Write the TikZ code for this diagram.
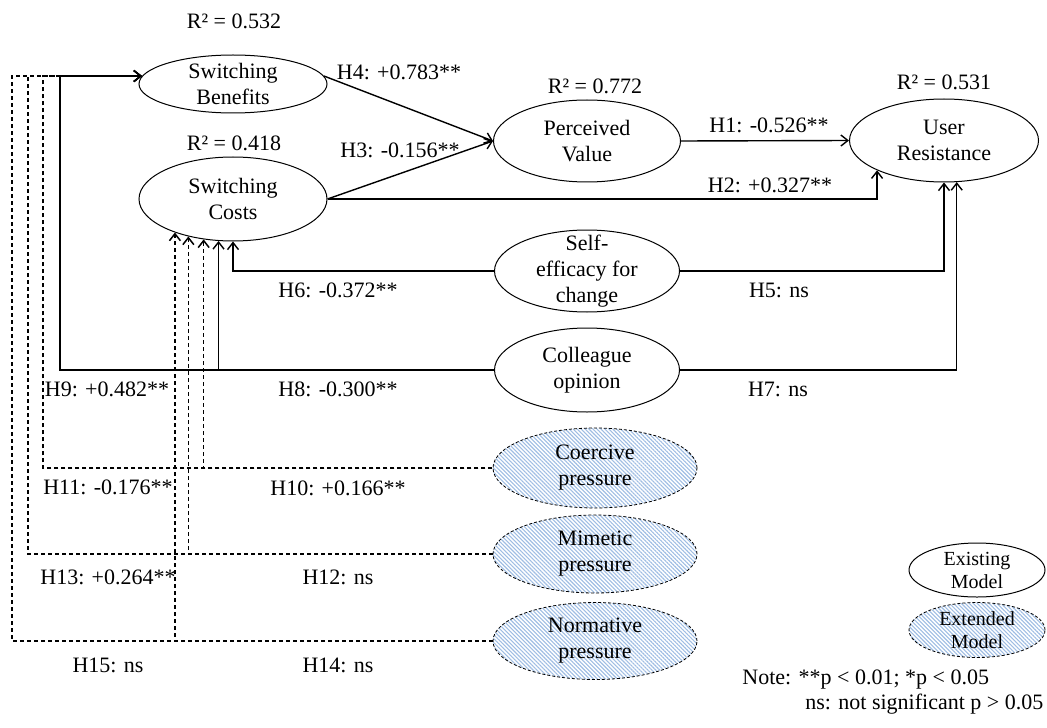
\documentclass[tikz,border=0pt]{standalone}
\usepackage{fontspec}
\setmainfont{Liberation Serif}
\usetikzlibrary{shapes.geometric,arrows.meta,patterns.meta}
\definecolor{hatch}{HTML}{9FBDE3}
\begin{document}
\begin{tikzpicture}[x=0.5pt,y=-0.5pt,
  font=\fontsize{11}{13}\selectfont,
  ell/.style={ellipse,draw,line width=0.5pt,inner sep=0pt},
  ext/.style={ell,dash pattern=on 1.5pt off 1pt,line width=0.4pt,
    pattern={Lines[angle=-45,distance=1.4pt,line width=0.55pt]},pattern color=hatch},
  txt/.style={align=center,inner sep=0pt},
  lab/.style={inner sep=0pt},
  arr/.style={line width=0.7pt,-{Straight Barb[length=3.5pt,width=5.5pt]}},
  darr/.style={arr,line width=0.75pt,dash pattern=on 2pt off 1.5pt},
  legtxt/.style={txt,font=\fontsize{10}{11.5}\selectfont}
]
\useasboundingbox (0,0) rectangle (1047,727);

% existing model constructs
\node[ell,minimum width=94pt,minimum height=29pt,label={[txt]center:Switching\\Benefits}] (sb) at (233,84) {};
\node[ell,minimum width=94pt,minimum height=42pt,label={[txt]center:Switching\\Costs}] (sc) at (233,199) {};
\node[ell,minimum width=93.5pt,minimum height=41pt,label={[txt]center:Perceived\\Value}] (pv) at (587,141) {};
\node[ell,minimum width=94.5pt,minimum height=41.5pt,label={[txt]center:User\\Resistance}] (ur) at (944,140.5) {};
\node[ell,minimum width=92.5pt,minimum height=41pt,label={[txt]center:Self-\\efficacy for\\change}] (se) at (587,271) {};
\node[ell,minimum width=92.5pt,minimum height=42pt,label={[txt]center:Colleague\\opinion}] (co) at (587,370) {};

% extended model constructs
\node[ext,minimum width=102pt,minimum height=40pt,label={[txt]center:Coercive\\pressure}] (cp) at (595,468) {};
\node[ext,minimum width=102pt,minimum height=39pt,label={[txt]center:Mimetic\\pressure}] (mp) at (595,554) {};
\node[ext,minimum width=102pt,minimum height=38.5pt,label={[txt]center:Normative\\pressure}] (np) at (595,641) {};

% legend
\node[ell,minimum width=68pt,minimum height=27pt,label={[legtxt]center:Existing\\Model}] (lex) at (977,570) {};
\node[ext,minimum width=68pt,minimum height=27.5pt,label={[legtxt]center:Extended\\Model}] (lext) at (977,630) {};

% R squared
\node[lab] (r1) at (234,21) {R² = 0.532};
\node[lab] (r2) at (234,143) {R² = 0.418};
\node[lab] (r3) at (595,86) {R² = 0.772};
\node[lab] (r4) at (944,82) {R² = 0.531};

% trunk x positions
\coordinate (x12) at (12,0);
\coordinate (x28) at (28,0);
\coordinate (x43) at (43,0);
\coordinate (x60) at (60,0);

% solid paths
\draw[arr] (sb.5) -- (pv.west);
\draw[arr] (sc.east) -- (pv.west);
\draw[arr] (pv.east) -- (ur.west);
\draw[arr] (sc.east) -| (ur.204.85);
\draw[arr] (se.east) -| (ur.south);
\draw[arr] (co.east) -| (ur.287.6);
\draw[arr] (se.west) -| (sc.south);
\draw[arr] (co.west) -| (sc.251.4);
\draw[arr] (co.west) -| (sb.175 -| x60) -- (sb.175);

% dashed paths
\draw[darr] (cp.west) -| (sb.175 -| x43) -- (sb.175);
\draw[darr] (cp.west) -| (sc.234.1);
\draw[darr] (mp.west) -| (sb.175 -| x28) -- (sb.175);
\draw[darr] (mp.west) -| (sc.220.1);
\draw[darr] (np.west) -| (sb.175 -| x12) -- (sb.175);
\draw[darr] (np.west) -| (sc.210.4);

% path labels
\node[lab] (h4) at (399,72) {H4: +0.783**};
\node[lab] (h3) at (400,150) {H3: -0.156**};
\node[lab] (h1) at (769,125) {H1: -0.526**};
\node[lab] (h2) at (770,185) {H2: +0.327**};
\node[lab] (h5) at (779,290) {H5: ns};
\node[lab] (h6) at (338,290) {H6: -0.372**};
\node[lab] (h8) at (338,389) {H8: -0.300**};
\node[lab] (h7) at (778,389) {H7: ns};
\node[lab] (h9) at (107,389) {H9: +0.482**};
\node[lab] (h10) at (338,488) {H10: +0.166**};
\node[lab] (h11) at (108,487) {H11: -0.176**};
\node[lab] (h12) at (338,577) {H12: ns};
\node[lab] (h13) at (108,577) {H13: +0.264**};
\node[lab] (h14) at (338,665) {H14: ns};
\node[lab] (h15) at (108,665) {H15: ns};

% note
\node[lab,anchor=base west] (n1) at (742,684) {Note: **p < 0.01; *p < 0.05};
\node[lab,anchor=base west] (n2) at (805,709) {ns: not significant p > 0.05};
\end{tikzpicture}
\end{document}
